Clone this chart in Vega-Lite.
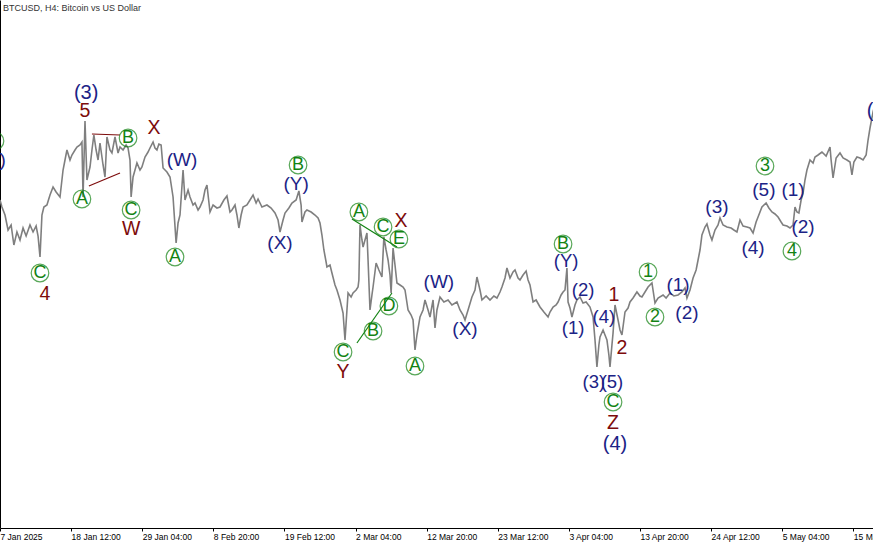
{
  "$schema": "https://vega.github.io/schema/vega-lite/v6.json",
  "width": 873,
  "height": 528,
  "autosize": {"type": "none"},
  "padding": {"left": 0, "top": 0, "right": 0, "bottom": 17},
  "background": "white",
  "config": {"view": {"stroke": null}},
  "title": {
    "text": "BTCUSD, H4:  Bitcoin vs US Dollar",
    "anchor": "start", "frame": "group", "orient": "top",
    "offset": -11, "baseline": "alphabetic", "dx": 3, "dy": 9,
    "font": "Liberation Sans", "fontSize": 9, "fontWeight": "normal", "color": "#333333"
  },
  "datasets": {
    "price": [
      {"t":"2025-01-07T20:00","p":99000},{"t":"2025-01-08T03:00","p":98020},{"t":"2025-01-08T14:00","p":96900},{"t":"2025-01-09T01:00","p":94800},
      {"t":"2025-01-09T12:00","p":95500},{"t":"2025-01-09T22:00","p":92700},{"t":"2025-01-10T09:00","p":94520},{"t":"2025-01-10T20:00","p":93400},
      {"t":"2025-01-11T07:00","p":95080},{"t":"2025-01-11T18:00","p":93960},{"t":"2025-01-12T08:00","p":95500},{"t":"2025-01-12T19:00","p":94520},
      {"t":"2025-01-13T06:00","p":95360},{"t":"2025-01-13T13:00","p":93960},{"t":"2025-01-13T20:00","p":91020},{"t":"2025-01-14T03:00","p":96900},
      {"t":"2025-01-14T10:00","p":98020},{"t":"2025-01-14T21:00","p":98300},{"t":"2025-01-15T08:00","p":99700},{"t":"2025-01-15T19:00","p":100820},
      {"t":"2025-01-16T06:00","p":100120},{"t":"2025-01-16T20:00","p":99420},{"t":"2025-01-17T07:00","p":103200},{"t":"2025-01-17T14:00","p":104600},
      {"t":"2025-01-17T21:00","p":106000},{"t":"2025-01-18T08:00","p":104600},{"t":"2025-01-18T15:00","p":105300},{"t":"2025-01-19T02:00","p":106000},
      {"t":"2025-01-19T09:00","p":106420},{"t":"2025-01-19T20:00","p":106700},{"t":"2025-01-20T03:00","p":107120},{"t":"2025-01-20T07:00","p":99420},
      {"t":"2025-01-20T14:00","p":110060},{"t":"2025-01-20T21:00","p":101800},{"t":"2025-01-21T08:00","p":103620},{"t":"2025-01-21T15:00","p":106000},
      {"t":"2025-01-21T22:00","p":108100},{"t":"2025-01-22T06:00","p":106000},{"t":"2025-01-22T13:00","p":104600},{"t":"2025-01-22T20:00","p":106980},
      {"t":"2025-01-23T07:00","p":103900},{"t":"2025-01-23T14:00","p":102220},{"t":"2025-01-23T21:00","p":107820},{"t":"2025-01-24T08:00","p":106000},
      {"t":"2025-01-24T15:00","p":105580},{"t":"2025-01-25T02:00","p":107820},{"t":"2025-01-25T13:00","p":105580},{"t":"2025-01-25T20:00","p":106420},
      {"t":"2025-01-26T07:00","p":106000},{"t":"2025-01-26T18:00","p":106700},{"t":"2025-01-27T01:00","p":106280},{"t":"2025-01-27T08:00","p":104600},
      {"t":"2025-01-27T12:00","p":99420},{"t":"2025-01-27T19:00","p":102220},{"t":"2025-01-28T02:00","p":103200},{"t":"2025-01-28T09:00","p":104180},
      {"t":"2025-01-28T20:00","p":103200},{"t":"2025-01-29T03:00","p":103620},{"t":"2025-01-29T14:00","p":105020},{"t":"2025-01-30T01:00","p":105720},
      {"t":"2025-01-30T08:00","p":106280},{"t":"2025-01-30T19:00","p":107120},{"t":"2025-01-31T02:00","p":106280},{"t":"2025-01-31T09:00","p":106000},
      {"t":"2025-01-31T16:00","p":106840},{"t":"2025-02-01T00:00","p":106700},{"t":"2025-02-01T07:00","p":103480},{"t":"2025-02-01T21:00","p":102920},
      {"t":"2025-02-02T08:00","p":102220},{"t":"2025-02-02T19:00","p":99420},{"t":"2025-02-03T06:00","p":92980},{"t":"2025-02-03T13:00","p":95780},
      {"t":"2025-02-03T20:00","p":96900},{"t":"2025-02-04T07:00","p":103200},{"t":"2025-02-04T14:00","p":99000},{"t":"2025-02-05T01:00","p":100400},
      {"t":"2025-02-05T08:00","p":99420},{"t":"2025-02-05T19:00","p":98300},{"t":"2025-02-06T02:00","p":98580},{"t":"2025-02-06T13:00","p":97600},
      {"t":"2025-02-06T20:00","p":98020},{"t":"2025-02-07T07:00","p":99000},{"t":"2025-02-07T14:00","p":100400},{"t":"2025-02-07T21:00","p":101100},
      {"t":"2025-02-08T08:00","p":97320},{"t":"2025-02-08T19:00","p":98300},{"t":"2025-02-09T09:00","p":97880},{"t":"2025-02-09T20:00","p":98020},
      {"t":"2025-02-10T10:00","p":99000},{"t":"2025-02-10T21:00","p":99560},{"t":"2025-02-11T08:00","p":97320},{"t":"2025-02-11T15:00","p":97600},
      {"t":"2025-02-12T02:00","p":98300},{"t":"2025-02-12T09:00","p":96900},{"t":"2025-02-12T16:00","p":95080},{"t":"2025-02-13T00:00","p":96900},
      {"t":"2025-02-13T07:00","p":98020},{"t":"2025-02-13T21:00","p":98300},{"t":"2025-02-14T08:00","p":99000},{"t":"2025-02-14T19:00","p":99700},
      {"t":"2025-02-15T06:00","p":98580},{"t":"2025-02-15T13:00","p":99140},{"t":"2025-02-16T03:00","p":98020},{"t":"2025-02-16T21:00","p":98300},
      {"t":"2025-02-17T12:00","p":97880},{"t":"2025-02-18T02:00","p":97180},{"t":"2025-02-18T13:00","p":96200},{"t":"2025-02-18T20:00","p":94520},
      {"t":"2025-02-19T07:00","p":96200},{"t":"2025-02-19T14:00","p":97180},{"t":"2025-02-20T04:00","p":97880},{"t":"2025-02-20T15:00","p":98580},
      {"t":"2025-02-21T06:00","p":99000},{"t":"2025-02-21T16:00","p":100260},{"t":"2025-02-22T00:00","p":98300},{"t":"2025-02-22T03:00","p":95920},
      {"t":"2025-02-22T14:00","p":97320},{"t":"2025-02-22T21:00","p":97600},{"t":"2025-02-23T12:00","p":97320},{"t":"2025-02-24T02:00","p":96900},
      {"t":"2025-02-24T13:00","p":96480},{"t":"2025-02-24T20:00","p":95780},{"t":"2025-02-25T03:00","p":94100},{"t":"2025-02-25T10:00","p":92000},
      {"t":"2025-02-25T18:00","p":90320},{"t":"2025-02-25T21:00","p":89620},{"t":"2025-02-26T08:00","p":89900},{"t":"2025-02-26T15:00","p":88780},
      {"t":"2025-02-27T02:00","p":87100},{"t":"2025-02-27T09:00","p":86400},{"t":"2025-02-27T20:00","p":85000},{"t":"2025-02-28T07:00","p":83180},
      {"t":"2025-02-28T14:00","p":79400},{"t":"2025-02-28T21:00","p":83600},{"t":"2025-03-01T01:00","p":85980},{"t":"2025-03-01T12:00","p":85420},
      {"t":"2025-03-01T19:00","p":85980},{"t":"2025-03-02T06:00","p":86400},{"t":"2025-03-02T13:00","p":86820},{"t":"2025-03-02T16:00","p":87800},
      {"t":"2025-03-02T20:00","p":95500},{"t":"2025-03-03T03:00","p":93400},{"t":"2025-03-03T07:00","p":92420},{"t":"2025-03-03T14:00","p":93400},
      {"t":"2025-03-03T21:00","p":94380},{"t":"2025-03-04T01:00","p":90600},{"t":"2025-03-04T08:00","p":83600},{"t":"2025-03-04T15:00","p":85700},
      {"t":"2025-03-04T19:00","p":86820},{"t":"2025-03-05T06:00","p":90180},{"t":"2025-03-05T16:00","p":89200},{"t":"2025-03-06T03:00","p":88220},
      {"t":"2025-03-06T10:00","p":93820},{"t":"2025-03-06T18:00","p":92000},{"t":"2025-03-07T01:00","p":90600},{"t":"2025-03-07T08:00","p":88500},
      {"t":"2025-03-07T12:00","p":85980},{"t":"2025-03-07T19:00","p":92280},{"t":"2025-03-08T02:00","p":89900},{"t":"2025-03-08T09:00","p":87380},
      {"t":"2025-03-08T20:00","p":87100},{"t":"2025-03-09T07:00","p":86820},{"t":"2025-03-09T14:00","p":86400},{"t":"2025-03-10T01:00","p":83600},
      {"t":"2025-03-10T12:00","p":82900},{"t":"2025-03-10T19:00","p":82200},{"t":"2025-03-11T02:00","p":78000},{"t":"2025-03-11T09:00","p":80100},
      {"t":"2025-03-11T20:00","p":82620},{"t":"2025-03-12T07:00","p":83600},{"t":"2025-03-12T14:00","p":85000},{"t":"2025-03-13T01:00","p":83600},
      {"t":"2025-03-13T08:00","p":82620},{"t":"2025-03-13T19:00","p":85000},{"t":"2025-03-14T02:00","p":81080},{"t":"2025-03-14T09:00","p":83600},
      {"t":"2025-03-14T20:00","p":85420},{"t":"2025-03-15T10:00","p":84720},{"t":"2025-03-16T01:00","p":85000},{"t":"2025-03-16T15:00","p":84300},
      {"t":"2025-03-17T09:00","p":84720},{"t":"2025-03-17T20:00","p":83600},{"t":"2025-03-18T07:00","p":82900},{"t":"2025-03-18T14:00","p":82200},
      {"t":"2025-03-19T01:00","p":83600},{"t":"2025-03-19T15:00","p":85420},{"t":"2025-03-20T02:00","p":86400},{"t":"2025-03-20T09:00","p":88220},
      {"t":"2025-03-20T20:00","p":86400},{"t":"2025-03-21T03:00","p":85000},{"t":"2025-03-21T18:00","p":85560},{"t":"2025-03-22T08:00","p":85000},
      {"t":"2025-03-22T22:00","p":85560},{"t":"2025-03-23T09:00","p":85280},{"t":"2025-03-23T20:00","p":86120},{"t":"2025-03-24T03:00","p":86820},
      {"t":"2025-03-24T14:00","p":88080},{"t":"2025-03-24T21:00","p":89480},{"t":"2025-03-25T08:00","p":88080},{"t":"2025-03-25T19:00","p":88920},
      {"t":"2025-03-26T02:00","p":89200},{"t":"2025-03-26T13:00","p":88080},{"t":"2025-03-26T20:00","p":87800},{"t":"2025-03-27T07:00","p":88500},
      {"t":"2025-03-27T18:00","p":89060},{"t":"2025-03-28T01:00","p":87800},{"t":"2025-03-28T08:00","p":87100},{"t":"2025-03-28T19:00","p":84720},
      {"t":"2025-03-29T06:00","p":85000},{"t":"2025-03-29T20:00","p":84020},{"t":"2025-03-30T10:00","p":83320},{"t":"2025-03-31T01:00","p":82620},
      {"t":"2025-03-31T08:00","p":83320},{"t":"2025-03-31T19:00","p":84020},{"t":"2025-04-01T06:00","p":84300},{"t":"2025-04-01T13:00","p":84720},
      {"t":"2025-04-02T00:00","p":85700},{"t":"2025-04-02T07:00","p":86120},{"t":"2025-04-02T14:00","p":86400},{"t":"2025-04-02T21:00","p":89480},
      {"t":"2025-04-03T01:00","p":84720},{"t":"2025-04-03T08:00","p":83880},{"t":"2025-04-03T15:00","p":82620},{"t":"2025-04-04T02:00","p":84300},
      {"t":"2025-04-04T09:00","p":85000},{"t":"2025-04-04T20:00","p":85420},{"t":"2025-04-05T07:00","p":84580},{"t":"2025-04-05T18:00","p":84720},
      {"t":"2025-04-06T08:00","p":84020},{"t":"2025-04-06T19:00","p":82620},{"t":"2025-04-07T02:00","p":79400},{"t":"2025-04-07T09:00","p":75620},
      {"t":"2025-04-07T16:00","p":78700},{"t":"2025-04-07T20:00","p":79820},{"t":"2025-04-08T07:00","p":80800},{"t":"2025-04-08T14:00","p":80100},
      {"t":"2025-04-08T21:00","p":79400},{"t":"2025-04-09T04:00","p":77300},{"t":"2025-04-09T08:00","p":75620},{"t":"2025-04-09T15:00","p":78700},
      {"t":"2025-04-09T19:00","p":80380},{"t":"2025-04-10T02:00","p":84300},{"t":"2025-04-10T13:00","p":82200},{"t":"2025-04-10T20:00","p":80800},
      {"t":"2025-04-11T03:00","p":80100},{"t":"2025-04-11T14:00","p":83320},{"t":"2025-04-12T01:00","p":83880},{"t":"2025-04-12T08:00","p":84720},
      {"t":"2025-04-12T19:00","p":85280},{"t":"2025-04-13T09:00","p":86120},{"t":"2025-04-13T20:00","p":85560},{"t":"2025-04-14T03:00","p":85420},
      {"t":"2025-04-14T14:00","p":86120},{"t":"2025-04-15T01:00","p":86820},{"t":"2025-04-15T15:00","p":87380},{"t":"2025-04-16T02:00","p":84580},
      {"t":"2025-04-16T13:00","p":85280},{"t":"2025-04-17T07:00","p":85700},{"t":"2025-04-17T18:00","p":85280},{"t":"2025-04-18T08:00","p":85980},
      {"t":"2025-04-18T22:00","p":85560},{"t":"2025-04-19T13:00","p":85700},{"t":"2025-04-20T03:00","p":86120},{"t":"2025-04-20T14:00","p":86680},
      {"t":"2025-04-20T21:00","p":85280},{"t":"2025-04-21T08:00","p":86400},{"t":"2025-04-21T19:00","p":88080},{"t":"2025-04-22T06:00","p":89200},
      {"t":"2025-04-22T13:00","p":90600},{"t":"2025-04-22T20:00","p":92000},{"t":"2025-04-23T03:00","p":94100},{"t":"2025-04-23T14:00","p":95220},
      {"t":"2025-04-23T21:00","p":95640},{"t":"2025-04-24T08:00","p":94100},{"t":"2025-04-24T15:00","p":93400},{"t":"2025-04-25T02:00","p":94800},
      {"t":"2025-04-25T13:00","p":95500},{"t":"2025-04-25T20:00","p":96480},{"t":"2025-04-26T07:00","p":95500},{"t":"2025-04-26T21:00","p":95220},
      {"t":"2025-04-27T12:00","p":95080},{"t":"2025-04-27T22:00","p":94800},{"t":"2025-04-28T09:00","p":94520},{"t":"2025-04-28T20:00","p":96200},
      {"t":"2025-04-29T07:00","p":95360},{"t":"2025-04-29T21:00","p":95220},{"t":"2025-04-30T08:00","p":95080},{"t":"2025-04-30T19:00","p":94380},
      {"t":"2025-05-01T06:00","p":95920},{"t":"2025-05-01T13:00","p":96620},{"t":"2025-05-02T03:00","p":98020},{"t":"2025-05-02T18:00","p":98580},
      {"t":"2025-05-03T04:00","p":97880},{"t":"2025-05-03T15:00","p":97320},{"t":"2025-05-04T02:00","p":97040},{"t":"2025-05-04T13:00","p":96620},
      {"t":"2025-05-05T00:00","p":95920},{"t":"2025-05-05T07:00","p":95500},{"t":"2025-05-05T21:00","p":95360},{"t":"2025-05-06T08:00","p":95080},
      {"t":"2025-05-06T19:00","p":95500},{"t":"2025-05-07T02:00","p":98020},{"t":"2025-05-07T09:00","p":97320},{"t":"2025-05-07T16:00","p":97180},
      {"t":"2025-05-08T00:00","p":99000},{"t":"2025-05-08T07:00","p":99980},{"t":"2025-05-08T14:00","p":101800},{"t":"2025-05-08T21:00","p":103200},
      {"t":"2025-05-09T08:00","p":104600},{"t":"2025-05-09T19:00","p":104180},{"t":"2025-05-10T02:00","p":105020},{"t":"2025-05-10T13:00","p":105300},
      {"t":"2025-05-11T03:00","p":105720},{"t":"2025-05-11T18:00","p":105160},{"t":"2025-05-12T08:00","p":106420},{"t":"2025-05-12T12:00","p":104600},
      {"t":"2025-05-12T19:00","p":102080},{"t":"2025-05-13T06:00","p":104880},{"t":"2025-05-13T20:00","p":105580},{"t":"2025-05-14T07:00","p":104880},
      {"t":"2025-05-14T21:00","p":104600},{"t":"2025-05-15T08:00","p":104320},{"t":"2025-05-15T15:00","p":102500},{"t":"2025-05-15T22:00","p":104320},
      {"t":"2025-05-16T09:00","p":105020},{"t":"2025-05-16T20:00","p":104880},{"t":"2025-05-17T07:00","p":104600},{"t":"2025-05-17T18:00","p":105300},
      {"t":"2025-05-18T01:00","p":107400},{"t":"2025-05-18T08:00","p":109080},{"t":"2025-05-18T19:00","p":111320},{"t":"2025-05-19T06:00","p":113000}
    ],
    "waves": [
      {"t":"2025-01-20T18:00","p":113980,"txt":"(3)","deg":"primary"},
      {"t":"2025-04-10T02:00","p":64840,"txt":"(4)","deg":"primary"},
      {"t":"2025-05-19T16:00","p":111460,"txt":"(3)","deg":"primary"},
      {"t":"2025-01-20T14:00","p":111460,"txt":"5","deg":"inter"},
      {"t":"2025-01-30T22:00","p":109080,"txt":"X","deg":"inter"},
      {"t":"2025-01-27T12:00","p":94940,"txt":"W","deg":"inter"},
      {"t":"2025-01-14T14:00","p":85840,"txt":"4","deg":"inter"},
      {"t":"2025-03-09T00:00","p":96060,"txt":"X","deg":"inter"},
      {"t":"2025-02-28T07:00","p":74920,"txt":"Y","deg":"inter"},
      {"t":"2025-04-09T19:00","p":67780,"txt":"Z","deg":"inter"},
      {"t":"2025-04-09T22:00","p":85700,"txt":"1","deg":"inter"},
      {"t":"2025-04-11T03:00","p":78280,"txt":"2","deg":"inter"},
      {"t":"2025-01-06T19:00","p":104600,"txt":"(Y)","deg":"minor"},
      {"t":"2025-02-04T03:00","p":104600,"txt":"(W)","deg":"minor"},
      {"t":"2025-02-18T20:00","p":92980,"txt":"(X)","deg":"minor"},
      {"t":"2025-02-21T06:00","p":101240,"txt":"(Y)","deg":"minor"},
      {"t":"2025-03-14T16:00","p":87520,"txt":"(W)","deg":"minor"},
      {"t":"2025-03-18T14:00","p":80940,"txt":"(X)","deg":"minor"},
      {"t":"2025-04-19T13:00","p":87100,"txt":"(1)","deg":"minor"},
      {"t":"2025-04-20T21:00","p":83180,"txt":"(2)","deg":"minor"},
      {"t":"2025-04-25T09:00","p":98020,"txt":"(3)","deg":"minor"},
      {"t":"2025-04-30T19:00","p":92280,"txt":"(4)","deg":"minor"},
      {"t":"2025-05-02T10:00","p":100400,"txt":"(5)","deg":"minor"},
      {"t":"2025-05-06T19:00","p":100400,"txt":"(1)","deg":"minor"},
      {"t":"2025-05-08T07:00","p":95220,"txt":"(2)","deg":"minor"},
      {"t":"2025-04-02T18:00","p":90460,"txt":"(Y)","deg":"minute"},
      {"t":"2025-04-05T07:00","p":86400,"txt":"(2)","deg":"minute"},
      {"t":"2025-04-03T19:00","p":81080,"txt":"(1)","deg":"minute"},
      {"t":"2025-04-08T10:00","p":82620,"txt":"(4)","deg":"minute"},
      {"t":"2025-04-06T22:00","p":73520,"txt":"(3)","deg":"minute"},
      {"t":"2025-04-09T15:00","p":73520,"txt":"(5)","deg":"minute"},
      {"t":"2025-01-07T02:00","p":107260,"txt":"B","deg":"circled"},
      {"t":"2025-01-27T01:00","p":107680,"txt":"B","deg":"circled"},
      {"t":"2025-01-20T03:00","p":99140,"txt":"A","deg":"circled"},
      {"t":"2025-01-27T12:00","p":97600,"txt":"C","deg":"circled"},
      {"t":"2025-02-03T02:00","p":91020,"txt":"A","deg":"circled"},
      {"t":"2025-01-13T20:00","p":88780,"txt":"C","deg":"circled"},
      {"t":"2025-02-21T13:00","p":103900,"txt":"B","deg":"circled"},
      {"t":"2025-03-02T16:00","p":97320,"txt":"A","deg":"circled"},
      {"t":"2025-03-06T07:00","p":95220,"txt":"C","deg":"circled"},
      {"t":"2025-03-08T16:00","p":93540,"txt":"E","deg":"circled"},
      {"t":"2025-03-04T19:00","p":80660,"txt":"B","deg":"circled"},
      {"t":"2025-03-07T04:00","p":84160,"txt":"D","deg":"circled"},
      {"t":"2025-02-28T07:00","p":77720,"txt":"C","deg":"circled"},
      {"t":"2025-03-11T02:00","p":75760,"txt":"A","deg":"circled"},
      {"t":"2025-04-02T07:00","p":92840,"txt":"B","deg":"circled"},
      {"t":"2025-04-09T19:00","p":70720,"txt":"C","deg":"circled"},
      {"t":"2025-04-15T01:00","p":88920,"txt":"1","deg":"circled"},
      {"t":"2025-04-16T02:00","p":82620,"txt":"2","deg":"circled"},
      {"t":"2025-05-02T14:00","p":103760,"txt":"3","deg":"circled"},
      {"t":"2025-05-06T15:00","p":91860,"txt":"4","deg":"circled"}
    ],
    "trend": [
      {"id":"r1","deg":"inter","t":"2025-01-21T15:00","p":108240},
      {"id":"r1","deg":"inter","t":"2025-01-25T20:00","p":108100},
      {"id":"r2","deg":"inter","t":"2025-01-21T04:00","p":100960},
      {"id":"r2","deg":"inter","t":"2025-01-25T20:00","p":102780},
      {"id":"g1","deg":"circled","t":"2025-03-01T15:00","p":96340},
      {"id":"g1","deg":"circled","t":"2025-03-08T09:00","p":92420},
      {"id":"g2","deg":"circled","t":"2025-03-02T09:00","p":78980},
      {"id":"g2","deg":"circled","t":"2025-03-07T15:00","p":85980}
    ]
  },
  "layer": [
    {
      "mark": {"type": "rule", "color": "#e0e0e0", "strokeWidth": 1},
      "encoding": {
        "y": {"datum": 104460, "type": "quantitative",
          "scale": {"domain": [53080, 127000], "nice": false, "zero": false},
          "axis": {"labels": false, "ticks": false, "grid": false, "title": null, "domainColor": "#000000", "domainWidth": 1}}
      }
    },
    {
      "mark": {"type": "rule", "color": "#3b8a3b", "strokeWidth": 1, "strokeDash": [8, 4]},
      "encoding": {"y": {"datum": 110060, "type": "quantitative"}}
    },
    {
      "data": {"name": "price"},
      "mark": {"type": "line", "color": "#7f7f7f", "strokeWidth": 1.6, "clip": true},
      "encoding": {
        "x": {"field": "t", "type": "temporal",
          "scale": {"domain": [{"year": 2025, "month": "jan", "date": 7, "hours": 20}, {"year": 2025, "month": "may", "date": 18, "hours": 18, "minutes": 48}], "nice": false},
          "axis": {
            "title": null, "grid": false,
            "values": [
              {"year": 2025, "month": "jan", "date": 7, "hours": 20},
              {"year": 2025, "month": "jan", "date": 18, "hours": 12},
              {"year": 2025, "month": "jan", "date": 29, "hours": 4},
              {"year": 2025, "month": "feb", "date": 8, "hours": 20},
              {"year": 2025, "month": "feb", "date": 19, "hours": 12},
              {"year": 2025, "month": "mar", "date": 2, "hours": 4},
              {"year": 2025, "month": "mar", "date": 12, "hours": 20},
              {"year": 2025, "month": "mar", "date": 23, "hours": 12},
              {"year": 2025, "month": "apr", "date": 3, "hours": 4},
              {"year": 2025, "month": "apr", "date": 13, "hours": 20},
              {"year": 2025, "month": "apr", "date": 24, "hours": 12},
              {"year": 2025, "month": "may", "date": 5, "hours": 4},
              {"year": 2025, "month": "may", "date": 15, "hours": 20}
            ],
            "labelExpr": "timeFormat(datum.value, '%m-%d %H') == '01-07 20' ? '7 Jan 2025' : timeFormat(datum.value, '%-d %b %H:%M')",
            "labelAlign": "left", "labelBaseline": "top", "labelPadding": 1, "labelDx": 1,
            "labelOverlap": false, "labelFlush": false, "labelBound": false,
            "labelFont": "Liberation Sans", "labelFontSize": 8.5, "labelColor": "#000000",
            "domainColor": "#000000", "tickColor": "#000000", "tickSize": 3
          }},
        "y": {"field": "p", "type": "quantitative"}
      }
    },
    {
      "data": {"name": "trend"},
      "mark": {"type": "line", "strokeWidth": 1.2},
      "encoding": {
        "x": {"field": "t", "type": "temporal"},
        "y": {"field": "p", "type": "quantitative"},
        "detail": {"field": "id"},
        "color": {"field": "deg", "type": "nominal", "legend": null,
          "scale": {"domain": ["primary", "inter", "minor", "minute", "circled"], "range": ["#1c2386", "#7d0b0b", "#1c2386", "#1c2386", "#138313"]}}
      }
    },
    {
      "data": {"name": "waves"},
      "transform": [{"filter": "datum.deg == 'circled'"}],
      "mark": {"type": "point", "shape": "circle", "filled": false, "size": 310, "strokeWidth": 1.2, "color": "#138313", "clip": true},
      "encoding": {
        "x": {"field": "t", "type": "temporal"},
        "y": {"field": "p", "type": "quantitative"}
      }
    },
    {
      "data": {"name": "waves"},
      "mark": {"type": "text", "font": "Liberation Sans", "align": "center", "baseline": "middle", "clip": true},
      "encoding": {
        "x": {"field": "t", "type": "temporal"},
        "y": {"field": "p", "type": "quantitative"},
        "text": {"field": "txt"},
        "color": {"field": "deg", "type": "nominal", "legend": null},
        "size": {"field": "deg", "type": "nominal", "legend": null,
          "scale": {"domain": ["primary", "inter", "minor", "minute", "circled"], "range": [20, 18, 15, 13.5, 14]}}
      }
    }
  ]
}
